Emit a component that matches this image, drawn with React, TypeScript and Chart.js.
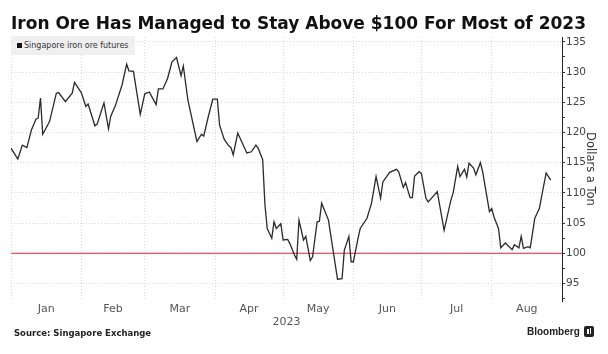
import React, { useEffect, useRef } from 'react';
import { Chart, registerables } from 'chart.js';

Chart.register(...registerables);

const YEAR = 2023;

const dates: string[] = [
  '01-01', '01-04', '01-06', '01-08', '01-10', '01-12', '01-13', '01-14', '01-15', '01-18',
  '01-21', '01-22', '01-25', '01-28', '01-29', '02-01', '02-03', '02-04', '02-07', '02-08',
  '02-11', '02-13', '02-14', '02-16', '02-19', '02-21', '02-22', '02-24', '02-27', '03-01',
  '03-03', '03-06', '03-07', '03-09', '03-11', '03-13', '03-15', '03-17', '03-18', '03-20',
  '03-24', '03-26', '03-27', '03-29', '03-31', '04-02', '04-03', '04-05', '04-07', '04-08',
  '04-09', '04-11', '04-15', '04-17', '04-19', '04-20', '04-22', '04-23', '04-24', '04-26',
  '04-27', '04-28', '04-30', '05-01', '05-03', '05-04', '05-06', '05-07', '05-08', '05-10',
  '05-11', '05-13', '05-14', '05-16', '05-17', '05-18', '05-21', '05-23', '05-25', '05-27',
  '05-28', '05-30', '05-31', '06-01', '06-03', '06-04', '06-07', '06-09', '06-11', '06-13',
  '06-14', '06-17', '06-20', '06-21', '06-23', '06-24', '06-26', '06-27', '06-28', '06-30',
  '07-01', '07-03', '07-04', '07-08', '07-11', '07-14', '07-15', '07-17', '07-18', '07-20',
  '07-21', '07-22', '07-24', '07-25', '07-27', '07-28', '07-31', '08-01', '08-02', '08-04',
  '08-05', '08-07', '08-10', '08-11', '08-13', '08-14', '08-15', '08-17', '08-18', '08-20',
  '08-22', '08-25', '08-27',
];

const prices: number[] = [
  117.4, 115.6, 117.9, 117.5, 120.4, 122.2, 122.4, 125.7, 119.7, 121.8,
  126.5, 126.6, 125.1, 126.5, 128.3, 126.6, 124.3, 124.7, 121.1, 121.4,
  124.9, 120.6, 122.7, 124.4, 127.9, 131.3, 130.2, 130.1, 123.0, 126.4,
  126.7, 124.6, 127.2, 127.2, 128.9, 131.7, 132.4, 129.4, 131.0, 125.4,
  118.5, 119.7, 119.4, 122.6, 125.5, 125.5, 121.2, 118.9, 117.8, 117.5,
  116.3, 119.9, 116.6, 116.8, 117.9, 117.4, 115.5, 108.0, 104.1, 102.5,
  105.2, 104.1, 104.9, 102.2, 102.3, 101.6, 99.7, 99.0, 105.5, 102.2,
  102.8, 98.8, 99.4, 105.2, 105.3, 108.3, 105.5, 100.6, 95.7, 95.8,
  100.5, 102.8, 98.6, 98.6, 102.4, 104.1, 105.8, 108.3, 112.7, 109.1,
  111.8, 113.4, 113.9, 113.5, 110.9, 111.7, 109.2, 109.2, 112.8, 113.5,
  113.2, 109.1, 108.5, 110.2, 103.8, 108.8, 110.0, 114.4, 112.7, 113.9,
  112.6, 114.9, 114.1, 113.0, 115.0, 113.5, 106.9, 107.4, 106.0, 104.1,
  100.9, 101.7, 100.6, 101.4, 100.9, 102.8, 100.8, 101.1, 100.9, 105.8,
  107.4, 113.3, 112.1,
];

const threshold = 100;
const monthNames: string[] = ['Jan', 'Feb', 'Mar', 'Apr', 'May', 'Jun', 'Jul', 'Aug'];
const monthStarts: string[] = ['01-01', '02-01', '03-01', '04-01', '05-01', '06-01', '07-01', '08-01', '09-01'];
const yMin = 92.1;
const yMax = 135.8;
const yMajorStep = 5;
const yMinorStep = 2.5;

const dayOfYear = (md: string): number => {
  const [m, d] = md.split('-').map(Number);
  return (Date.UTC(YEAR, m - 1, d) - Date.UTC(YEAR, 0, 1)) / 86400000;
};

const FONT = "'DejaVu Sans', sans-serif";

export default function App() {
  const ref = useRef<HTMLCanvasElement>(null);

  useEffect(() => {
    const canvas = ref.current;
    if (!canvas) return;
    Chart.defaults.font.family = FONT;

    const series = dates.map((d, i) => ({ x: dayOfYear(d), y: prices[i] }));
    const starts = monthStarts.map(dayOfYear);
    const xMax = starts[starts.length - 1];
    const gridDays = starts.slice(0, -1);
    const midDays = monthNames.map((_, i) => (starts[i] + starts[i + 1]) / 2);

    const yTickVals: number[] = [];
    for (let v = Math.ceil(yMin / yMinorStep) * yMinorStep; v <= yMax + 1e-9; v += yMinorStep) {
      yTickVals.push(Math.round(v * 10) / 10);
    }
    const isMajor = (v: number) => Math.abs(v / yMajorStep - Math.round(v / yMajorStep)) < 1e-6;

    const chart = new Chart(canvas, {
      type: 'line',
      data: {
        datasets: [
          {
            label: 'Singapore iron ore futures',
            data: series,
            borderColor: '#2a2a2a',
            borderWidth: 1.3,
            pointRadius: 0,
            tension: 0,
            order: 1,
          },
          {
            label: 'threshold',
            data: [
              { x: 0, y: threshold },
              { x: xMax, y: threshold },
            ],
            borderColor: '#e3233d',
            borderWidth: 1,
            pointRadius: 0,
            order: 2,
          },
        ],
      },
      options: {
        responsive: false,
        animation: false,
        events: [],
        layout: { padding: { top: 37, left: 11, right: 0, bottom: 0 } },
        plugins: {
          legend: { display: false },
          tooltip: { enabled: false },
          title: { display: false },
        },
        scales: {
          x: {
            type: 'linear',
            position: 'bottom',
            min: 0,
            max: xMax,
            afterBuildTicks: (s: any) => {
              s.ticks = [...gridDays, ...midDays].sort((a, b) => a - b).map((v) => ({ value: v }));
            },
            afterFit: (s: any) => {
              s.height = 53;
            },
            grid: {
              color: (c: any) => (c.tick && gridDays.includes(c.tick.value) ? '#d9d9d9' : 'rgba(0,0,0,0)'),
              drawTicks: false,
              lineWidth: 1,
            },
            border: { display: false, dash: [1, 2] },
            ticks: {
              autoSkip: false,
              maxRotation: 0,
              padding: 2,
              color: '#555',
              font: { size: 11 },
              callback: (v: any) => {
                const i = midDays.indexOf(Number(v));
                return i >= 0 ? monthNames[i] : '';
              },
            },
            title: {
              display: true,
              text: String(YEAR),
              color: '#555',
              font: { size: 11 },
              padding: { top: 0, bottom: 25 },
            },
          },
          y: {
            type: 'linear',
            position: 'right',
            min: yMin,
            max: yMax,
            afterBuildTicks: (s: any) => {
              s.ticks = yTickVals.map((v) => ({ value: v }));
            },
            afterFit: (s: any) => {
              s.width = 46;
            },
            grid: {
              color: (c: any) => (c.tick && isMajor(c.tick.value) ? '#d9d9d9' : 'rgba(0,0,0,0)'),
              tickColor: '#333',
              tickLength: 3,
              drawTicks: true,
              lineWidth: 1,
            },
            border: { display: true, color: '#222', width: 1, dash: [1, 2] },
            ticks: {
              autoSkip: false,
              padding: 1,
              color: '#444',
              font: { size: 10.5 },
              callback: (v: any) => (isMajor(Number(v)) ? String(Math.round(Number(v))) : ''),
            },
            title: {
              display: true,
              text: 'Dollars a Ton',
              color: '#333',
              font: { size: 11.5 },
              padding: { top: 11, bottom: 0 },
            },
          },
        },
      },
    });
    return () => chart.destroy();
  }, []);

  return (
    <div
      style={{
        position: 'fixed',
        left: 0,
        top: 0,
        width: 608,
        height: 354,
        background: '#fff',
        fontFamily: FONT,
        overflow: 'hidden',
      }}
    >
      <canvas ref={ref} width={608} height={354} style={{ position: 'absolute', left: 0, top: 0, width: 608, height: 354 }} />
      <div
        style={{
          position: 'absolute',
          left: 11,
          top: 15,
          fontSize: 17,
          lineHeight: '17px',
          fontWeight: 'bold',
          color: '#111',
          whiteSpace: 'nowrap',
        }}
      >
        Iron Ore Has Managed to Stay Above $100 For Most of 2023
      </div>
      <div
        style={{
          position: 'absolute',
          left: 12,
          top: 36,
          width: 123,
          height: 19,
          background: '#efefef',
        }}
      >
        <div style={{ position: 'absolute', left: 5, top: 7, width: 5, height: 5, background: '#111' }} />
        <div
          style={{
            position: 'absolute',
            left: 12,
            top: 5,
            fontSize: 8,
            lineHeight: '10px',
            color: '#333',
            whiteSpace: 'nowrap',
          }}
        >
          Singapore iron ore futures
        </div>
      </div>
      <div
        style={{
          position: 'absolute',
          left: 14,
          top: 328,
          fontSize: 8.5,
          lineHeight: '10px',
          fontWeight: 'bold',
          color: '#222',
          whiteSpace: 'nowrap',
        }}
      >
        Source: Singapore Exchange
      </div>
      <div
        style={{
          position: 'absolute',
          left: 527,
          top: 325,
          fontSize: 10,
          lineHeight: '14px',
          fontWeight: 'bold',
          fontFamily: "'Liberation Sans', sans-serif",
          color: '#222',
          whiteSpace: 'nowrap',
        }}
      >
        Bloomberg
      </div>
      <div
        style={{
          position: 'absolute',
          left: 584,
          top: 326,
          width: 10,
          height: 11,
          borderRadius: 2,
          background: '#222',
        }}
      >
        <div style={{ position: 'absolute', left: 3, top: 3, width: 1.5, height: 5, background: '#fff' }} />
        <div style={{ position: 'absolute', left: 5.5, top: 2, width: 1.5, height: 6, background: '#fff' }} />
      </div>
    </div>
  );
}
